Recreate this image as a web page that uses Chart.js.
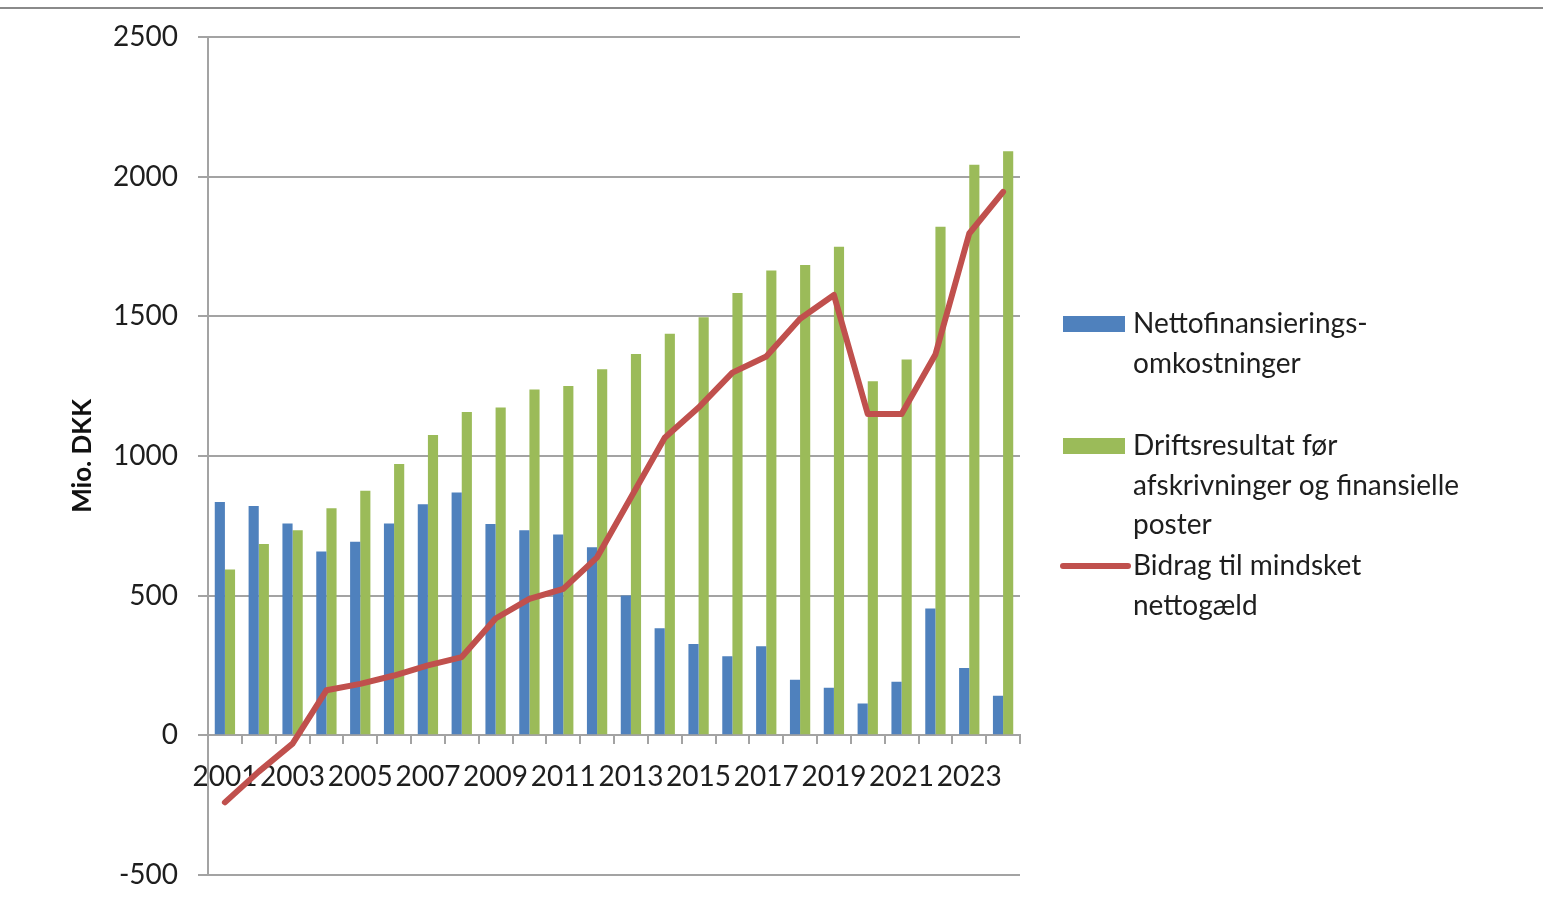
<!DOCTYPE html>
<html>
<head>
<meta charset="utf-8">
<script src="https://cdn.jsdelivr.net/npm/chart.js@4/dist/chart.umd.min.js"></script>
<style>
  html, body { margin: 0; padding: 0; background: #ffffff; }
  canvas { display: block; }
</style>
</head>
<body>
<canvas id="c" width="1543" height="912"></canvas>
<script>
const years = ['2001','2002','2003','2004','2005','2006','2007','2008','2009','2010','2011','2012',
               '2013','2014','2015','2016','2017','2018','2019','2020','2021','2022','2023','2024'];
const nettofinansiering = [835, 821, 758, 658, 693, 758, 827, 869, 756, 734, 719, 673,
                           500, 383, 327, 283, 319, 199, 170, 114, 192, 454, 241, 142];
const driftsresultat = [593, 685, 734, 813, 875, 971, 1075, 1157, 1173, 1238, 1250, 1310,
                        1365, 1437, 1496, 1583, 1664, 1683, 1749, 1267, 1345, 1820, 2042, 2090];
const bidrag = [-240, -130, -30, 161, 184, 214, 250, 280, 418, 488, 524, 637,
                851, 1065, 1173, 1298, 1356, 1491, 1576, 1150, 1150, 1363, 1796, 1945];
const seriesNames = ['Nettofinansierings-omkostninger', 'Driftsresultat før afskrivninger og finansielle poster', 'Bidrag til mindsket nettogæld'];
const legendLines = [
  ['Nettofinansierings-', 'omkostninger'],
  ['Driftsresultat før', 'afskrivninger og finansielle', 'poster'],
  ['Bidrag til mindsket', 'nettogæld']
];
const yAxisTitle = 'Mio. DKK';
const yMin = -500, yMax = 2500, yStep = 500;

const FONT = 'Lato, "Open Sans", sans-serif';
const TEXT = '#1e1e1e';
const GRID = '#a3a3a3';

const legendPlugin = {
  id: 'sideLegend',
  afterDraw(chart) {
    const ctx = chart.ctx;
    ctx.save();
    ctx.strokeStyle = '#8a8a8a';
    ctx.lineWidth = 2;
    ctx.beginPath(); ctx.moveTo(0, 8); ctx.lineTo(1543, 8); ctx.stroke();

    ctx.font = '28px ' + FONT;
    ctx.textBaseline = 'middle';
    ctx.textAlign = 'left';
    const tx = 1133;
    const ds = chart.data.datasets;
    const items = [
      {ds: ds[1], y: 324, lines: legendLines[0], kind: 'box'},
      {ds: ds[2], y: 446, lines: legendLines[1], kind: 'box'},
      {ds: ds[0], y: 566, lines: legendLines[2], kind: 'line'}
    ];
    const lh = 39.5;
    items.forEach(it => {
      if (it.kind === 'box') {
        ctx.fillStyle = it.ds.backgroundColor;
        ctx.fillRect(1063, it.y - 8, 62, 16);
      } else {
        ctx.strokeStyle = it.ds.borderColor;
        ctx.lineWidth = 6;
        ctx.lineCap = 'round';
        ctx.beginPath(); ctx.moveTo(1063, it.y); ctx.lineTo(1128, it.y); ctx.stroke();
      }
      ctx.fillStyle = TEXT;
      it.lines.forEach((t, i) => ctx.fillText(t, tx, it.y + i * lh));
    });
    ctx.restore();
  }
};

const bgPlugin = {
  id: 'bg',
  beforeDraw(chart) {
    const ctx = chart.ctx;
    ctx.save();
    ctx.fillStyle = '#ffffff';
    ctx.fillRect(0, 0, chart.width, chart.height);
    ctx.restore();
  }
};

new Chart(document.getElementById('c'), {
  type: 'bar',
  data: {
    labels: years,
    datasets: [
      {
        type: 'line',
        label: seriesNames[2],
        data: bidrag,
        borderColor: '#c0504d',
        backgroundColor: '#c0504d',
        borderWidth: 6,
        pointRadius: 0,
        tension: 0,
        borderJoinStyle: 'round',
        borderCapStyle: 'round',
        order: 0
      },
      {
        label: seriesNames[0],
        data: nettofinansiering,
        backgroundColor: '#4f81bd',
        categoryPercentage: 0.6,
        barPercentage: 1.0,
        order: 1
      },
      {
        label: seriesNames[1],
        data: driftsresultat,
        backgroundColor: '#9bbb59',
        categoryPercentage: 0.6,
        barPercentage: 1.0,
        order: 1
      }
    ]
  },
  options: {
    responsive: false,
    animation: false,
    events: [],
    layout: { padding: { left: 0, top: 35, right: 523, bottom: 37 } },
    plugins: {
      legend: { display: false },
      title: { display: false },
      tooltip: { enabled: false }
    },
    scales: {
      x: {
        position: { y: 0 },
        grid: {
          drawOnChartArea: false,
          drawTicks: true,
          tickLength: 8,
          color: GRID,
          lineWidth: 2
        },
        border: { display: true, color: GRID, width: 2 },
        ticks: {
          autoSkip: false,
          maxRotation: 0,
          minRotation: 0,
          padding: 17,
          color: TEXT,
          font: { family: FONT, size: 28 },
          callback: function (value, index) {
            return index % 2 === 0 ? years[index] : '';
          }
        }
      },
      y: {
        min: yMin,
        max: yMax,
        afterFit(scale) { scale.width = 208; },
        grid: {
          color: GRID,
          lineWidth: 2,
          drawTicks: true,
          tickLength: 10
        },
        border: { display: true, color: GRID, width: 2 },
        ticks: {
          stepSize: yStep,
          padding: 20,
          color: TEXT,
          font: { family: FONT, size: 28 },
          callback: function (value) { return String(value); }
        },
        title: {
          display: true,
          text: yAxisTitle,
          color: '#111111',
          font: { family: FONT, size: 26, weight: 'bold' },
          padding: { top: 67, bottom: 0 }
        }
      }
    }
  },
  plugins: [bgPlugin, legendPlugin]
});
</script>
</body>
</html>
